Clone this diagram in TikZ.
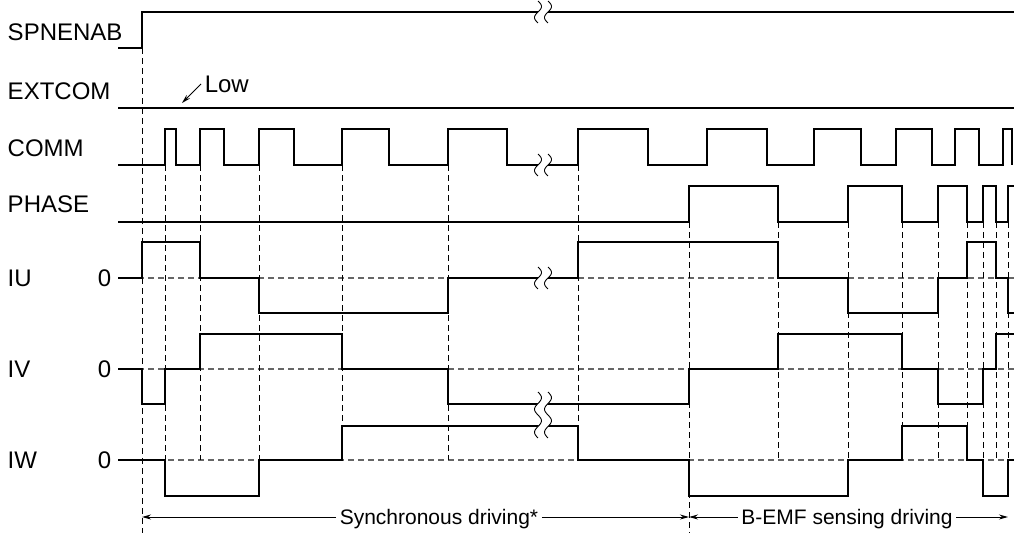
\documentclass[tikz,border=0pt]{standalone}
\usepackage{fontspec}
\setmainfont{Liberation Sans}
\usetikzlibrary{arrows.meta}

\newcommand\zbreak[4]{%
  \fill[white] plot[variable=\t, domain=0:1, samples=30] ({#1-5+3.5*sin(360*#4*\t)}, {#2+(#3-#2)*\t})
    -- plot[variable=\t, domain=1:0, samples=30] ({#1+5+3.5*sin(360*#4*\t)}, {#2+(#3-#2)*\t}) -- cycle;
  \draw[line width=0.9pt] plot[variable=\t, domain=0:1, samples=30] ({#1-5+3.5*sin(360*#4*\t)}, {#2+(#3-#2)*\t});
  \draw[line width=0.9pt] plot[variable=\t, domain=0:1, samples=30] ({#1+5+3.5*sin(360*#4*\t)}, {#2+(#3-#2)*\t});
}

\begin{document}
\begin{tikzpicture}[x=1pt, y=-1pt, line width=1.5pt,
    lbl/.style={anchor=west, inner sep=0pt, text depth=0pt, font=\fontsize{24}{28}\selectfont},
    vdash/.style={line width=1pt, dash pattern=on 6pt off 4pt},
    zline/.style={line width=1.3pt, black!60, dash pattern=on 6pt off 4pt},
    span/.style={line width=1pt, -{Stealth[length=9pt, width=5pt]}},
    spantext/.style={inner sep=3pt, text depth=0pt, font=\fontsize{21}{25}\selectfont}]
  \useasboundingbox (0,0) rectangle (1018,533);

  \node [lbl] (spn) at (7,32) {SPNENAB};
  \node [lbl] (ext) at (7,91) {EXTCOM};
  \node [lbl] (comm) at (7,148) {COMM};
  \node [lbl] (phase) at (7,204) {PHASE};
  \node [lbl] (iu) at (7,278) {IU};
  \node [lbl] (iv) at (7,369) {IV};
  \node [lbl] (iw) at (7,460) {IW};
  \node [lbl, anchor=east] (iu0) at (112,278) {0};
  \node [lbl, anchor=east] (iv0) at (112,369) {0};
  \node [lbl, anchor=east] (iw0) at (112,460) {0};

  \draw [zline] (118,278) -- (1014,278);
  \draw [zline] (118,369) -- (1014,369);
  \draw [zline] (118,460) -- (1014,460);
  \draw [vdash] (142,48) -- (142,533);
  \draw [vdash] (689,222) -- (689,533);
  \foreach \x in {165,200,259,342,448,578}
    \draw [vdash] (\x,165) -- (\x,460);
  \foreach \x in {778,848,902,938,967,983,996,1008}
    \draw [vdash] (\x,222) -- (\x,460);

  \draw (118,48) -- (142,48) -- (142,12) -- (1014,12);
  \draw (118,108) -- (1014,108);
  \draw (118,165) \foreach \a/\b in {165/176,200/224,259/294,342/389,448/507,578/648,707/767,814/861,896/932,955/979,1003/1012}
    { -- (\a,165) -- (\a,129) -- (\b,129) -- (\b,165) };
  \draw (118,222) \foreach \a/\b in {689/778,848/902,938/967,983/996}
    { -- (\a,222) -- (\a,186) -- (\b,186) -- (\b,222) } -- (1008,222) -- (1008,186) -- (1014,186);
  \draw (118,278) -- (142,278) -- (142,242) -- (200,242) -- (200,278) -- (259,278) -- (259,313)
    -- (448,313) -- (448,278) -- (578,278) -- (578,242) -- (778,242) -- (778,278) -- (848,278)
    -- (848,313) -- (938,313) -- (938,278) -- (967,278) -- (967,242) -- (996,242) -- (996,278)
    -- (1008,278) -- (1008,313) -- (1014,313);
  \draw (118,369) -- (142,369) -- (142,404) -- (165,404) -- (165,369) -- (200,369) -- (200,334)
    -- (342,334) -- (342,369) -- (448,369) -- (448,404) -- (689,404) -- (689,369) -- (778,369)
    -- (778,334) -- (902,334) -- (902,369) -- (938,369) -- (938,404) -- (983,404) -- (983,369)
    -- (996,369) -- (996,334) -- (1014,334);
  \draw (118,460) -- (165,460) -- (165,496) -- (259,496) -- (259,460) -- (342,460) -- (342,426)
    -- (578,426) -- (578,460) -- (689,460) -- (689,496) -- (848,496) -- (848,460) -- (902,460)
    -- (902,426) -- (967,426) -- (967,460) -- (983,460) -- (983,496) -- (1008,496) -- (1008,460)
    -- (1014,460);

  \zbreak{543}{1}{23}{1}
  \zbreak{543}{154}{176}{1}
  \zbreak{543}{267}{289}{1}
  \zbreak{543}{392}{438}{2}

  \node [lbl, inner sep=3pt] (low) at (201,84) {Low};
  \coordinate (lowtip) at (182,103);
  \draw [span] (low.west) -- (lowtip);

  \coordinate (sl) at (142,517);
  \coordinate (sm) at (689,517);
  \coordinate (sr) at (1008,517);
  \node [spantext] (sync) at (439,517) {Synchronous driving*};
  \node [spantext] (bemf) at (847,517) {B-EMF sensing driving};
  \draw [span] (sync) -- (sl);
  \draw [span] (sync) -- (sm);
  \draw [span] (bemf) -- (sm);
  \draw [span] (bemf) -- (sr);
\end{tikzpicture}
\end{document}
